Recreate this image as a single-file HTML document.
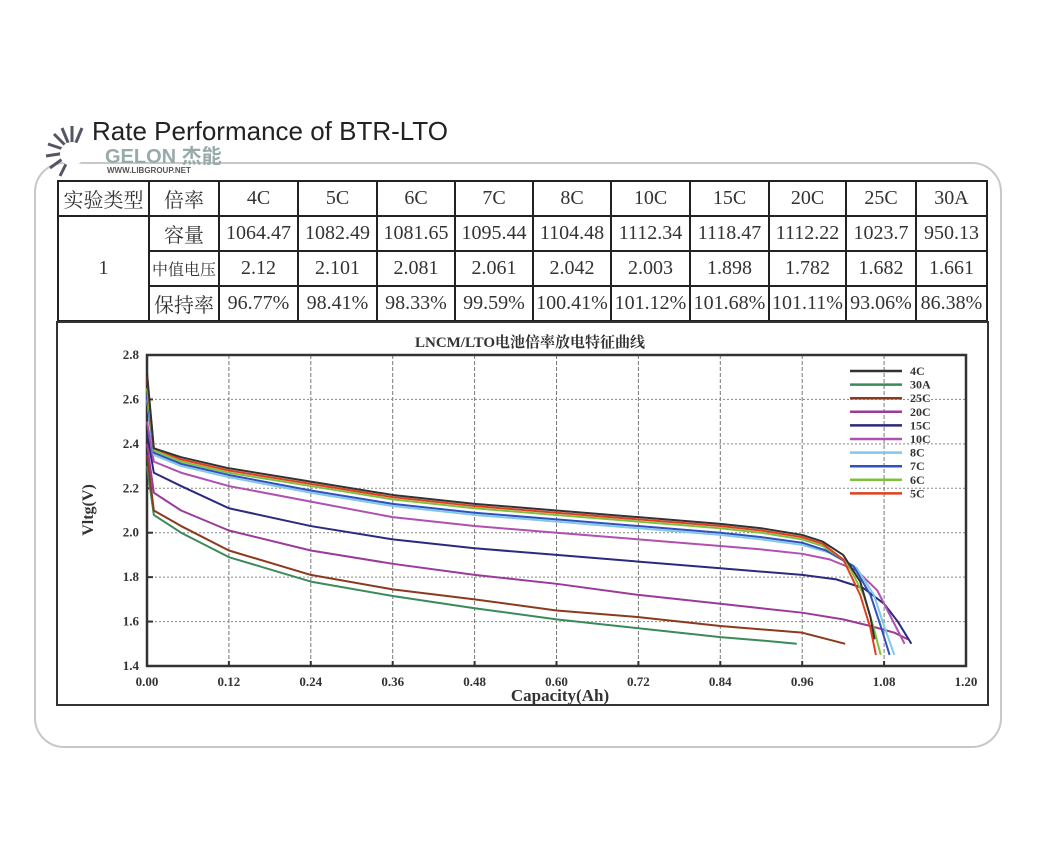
<!DOCTYPE html>
<html><head><meta charset="utf-8">
<style>
body{margin:0;background:#fff;width:1060px;height:868px;overflow:hidden;font-family:"Liberation Serif","Noto Serif CJK SC",serif;}
.title{position:absolute;left:92px;top:116px;font:26px "Liberation Sans",sans-serif;color:#222;}
.logo{position:absolute;left:105px;top:140px;font:bold 20px "Liberation Sans","Noto Sans CJK SC",sans-serif;color:#9aa;}
.www{position:absolute;left:107px;top:166px;font:bold 8px "Liberation Sans",sans-serif;color:#555;}
.outer{position:absolute;left:34px;top:162px;width:964px;height:582px;border:2px solid #c8c8c8;border-radius:30px;}
table{position:absolute;left:57px;top:180px;border-collapse:collapse;}
td{border:2px solid #222;text-align:center;font-size:20px;color:#333;padding:0;height:33px;}
</style></head><body>
<div class="outer"></div>
<div class="title">Rate Performance of BTR-LTO</div>
<div class="logo">GELON 杰能</div>
<div class="www">WWW.LIBGROUP.NET</div>
<svg style="position:absolute;left:42px;top:120px" width="60" height="60">
<g stroke="#556" stroke-width="3">
<line x1="30" y1="32" x2="30" y2="6"/><line x1="30" y1="32" x2="40" y2="8"/><line x1="30" y1="32" x2="20" y2="8"/><line x1="30" y1="32" x2="12" y2="14"/><line x1="30" y1="32" x2="6" y2="24"/><line x1="30" y1="32" x2="4" y2="36"/><line x1="30" y1="32" x2="8" y2="48"/><line x1="30" y1="32" x2="18" y2="56"/></g>
<circle cx="30" cy="34" r="12" fill="#fff"/></svg>
<table>
<tr style="height:35px"><td style="width:89px">实验类型</td><td style="width:68px">倍率</td>
<td style="width:77px">4C</td><td style="width:77px">5C</td><td style="width:76px">6C</td><td style="width:76px">7C</td><td style="width:76px">8C</td><td style="width:77px">10C</td><td style="width:77px">15C</td><td style="width:75px">20C</td><td style="width:68px">25C</td><td style="width:69px">30A</td></tr>
<tr><td rowspan="3">1</td><td>容量</td><td>1064.47</td><td>1082.49</td><td>1081.65</td><td>1095.44</td><td>1104.48</td><td>1112.34</td><td>1118.47</td><td>1112.22</td><td>1023.7</td><td>950.13</td></tr>
<tr><td style="font-size:16px">中值电压</td><td>2.12</td><td>2.101</td><td>2.081</td><td>2.061</td><td>2.042</td><td>2.003</td><td>1.898</td><td>1.782</td><td>1.682</td><td>1.661</td></tr>
<tr><td>保持率</td><td>96.77%</td><td>98.41%</td><td>98.33%</td><td>99.59%</td><td>100.41%</td><td>101.12%</td><td>101.68%</td><td>101.11%</td><td>93.06%</td><td>86.38%</td></tr>
</table>
<svg id="chart" style="position:absolute;left:0;top:0" width="1060" height="868"></svg>
<script>
const xTicks=[0,0.12,0.24,0.36,0.48,0.60,0.72,0.84,0.96,1.08,1.20];
const yTicks=[1.4,1.6,1.8,2.0,2.2,2.4,2.6,2.8];
const seriesNames=["4C","30A","25C","20C","15C","10C","8C","7C","6C","5C"];
const seriesColors=["#333","#3a8a5a","#8b3a1e","#9a3a9a","#2a2a80","#b050b0","#80c8e8","#3050c0","#80c040","#e04020"];
const capX=[0,0.01,0.05,0.12,0.24,0.36,0.48,0.60,0.72,0.84,0.90,0.96];
const v4C=[2.72,2.38,2.34,2.29,2.23,2.17,2.13,2.10,2.07,2.04,2.02,1.99];
const v30A=[2.30,2.08,2.00,1.89,1.78,1.715,1.66,1.61,1.57,1.53,1.515,1.50];
const v25C=[2.35,2.10,2.03,1.92,1.81,1.745,1.70,1.65,1.62,1.58,1.565,1.55];
const v20C=[2.40,2.18,2.10,2.01,1.92,1.86,1.81,1.77,1.72,1.68,1.66,1.64];
const v15C=[2.45,2.27,2.21,2.11,2.03,1.97,1.93,1.90,1.87,1.84,1.825,1.81];
const v10C=[2.50,2.32,2.27,2.21,2.14,2.07,2.03,2.00,1.97,1.94,1.925,1.905];
const v8C=[2.60,2.35,2.30,2.25,2.18,2.12,2.08,2.05,2.02,1.99,1.97,1.945];
const v7C=[2.62,2.36,2.31,2.26,2.19,2.13,2.09,2.06,2.03,2.00,1.98,1.955];
const v6C=[2.65,2.37,2.32,2.27,2.21,2.15,2.11,2.08,2.05,2.02,2.00,1.97];
const v5C=[2.70,2.38,2.33,2.28,2.22,2.16,2.12,2.09,2.06,2.03,2.01,1.98];
const tailX=[[0.99,1.02,1.045,1.06,1.066],[],[1.023],[1.02,1.06,1.095,1.115],[1.01,1.05,1.08,1.10,1.12],[1.0,1.04,1.07,1.09,1.11],[1.0,1.04,1.065,1.08,1.095],[0.995,1.035,1.06,1.075,1.088],[0.99,1.025,1.05,1.065,1.075],[0.99,1.02,1.045,1.06,1.068]];
const tailV=[[1.96,1.90,1.78,1.62,1.52],[],[1.50],[1.61,1.58,1.55,1.52],[1.79,1.75,1.68,1.60,1.50],[1.88,1.83,1.74,1.62,1.50],[1.91,1.84,1.72,1.58,1.45],[1.92,1.85,1.72,1.58,1.45],[1.94,1.87,1.72,1.57,1.45],[1.95,1.88,1.72,1.57,1.45]];
const allV=[v4C,v30A,v25C,v20C,v15C,v10C,v8C,v7C,v6C,v5C];
const cutX=[1.066,0.952,1.023,1.115,1.12,1.11,1.095,1.088,1.075,1.068];
const X0=147,X1=966,Y0=666,Y1=355;
const sx=v=>X0+(v-0)/1.2*(X1-X0);
const sy=v=>Y0-(v-1.4)/1.4*(Y0-Y1);
const svg=document.getElementById('chart');
const NS="http://www.w3.org/2000/svg";
function mk(t,a,txt){const e=document.createElementNS(NS,t);for(const k in a)e.setAttribute(k,a[k]);if(txt!==undefined)e.textContent=txt;svg.appendChild(e);return e;}
let fr=mk('rect',{x:57,y:322,width:931,height:383,fill:'none',stroke:'#333','stroke-width':2});


let t=mk('text',{x:530,y:347,'text-anchor':'middle','font-size':15,'font-weight':'bold','font-family':'"Liberation Serif","Noto Serif CJK SC",serif',fill:'#333'},'LNCM/LTO电池倍率放电特征曲线');


xTicks.forEach((v,i)=>{
 if(i>0&&i<xTicks.length-1){const g=mk('line',{x1:sx(v),x2:sx(v),y1:Y1,y2:Y0,stroke:'#777','stroke-dasharray':'4,2','stroke-width':1});
 
 }
 const l=mk('text',{x:sx(v),y:Y0+20,'text-anchor':'middle','font-size':13,'font-weight':'bold',fill:'#333'},v.toFixed(2));
 
 
 mk('line',{x1:sx(v),x2:sx(v),y1:Y0,y2:Y0-5,stroke:'#333','stroke-width':2});
});
yTicks.forEach((v,i)=>{
 if(i>0&&i<yTicks.length-1){const g=mk('line',{x1:X0,x2:X1,y1:sy(v),y2:sy(v),stroke:'#888','stroke-dasharray':'2,2','stroke-width':1});
 
 }
 const l=mk('text',{x:X0-8,y:sy(v)+4,'text-anchor':'end','font-size':13,'font-weight':'bold',fill:'#333'},v.toFixed(1));
 
 
 mk('line',{x1:X0,x2:X0+6,y1:sy(v),y2:sy(v),stroke:'#333','stroke-width':2});
});
let ax=mk('rect',{x:X0,y:Y1,width:X1-X0,height:Y0-Y1,fill:'none',stroke:'#333','stroke-width':2.5});


let xl=mk('text',{x:560,y:701,'text-anchor':'middle','font-size':17,'font-weight':'bold',fill:'#333'},'Capacity(Ah)');


let yl=mk('text',{x:0,y:0,transform:'translate(93,510) rotate(-90)','text-anchor':'middle','font-size':16,'font-weight':'bold',fill:'#333'},'Vltg(V)');


const order=[1,2,3,4,5,6,7,8,9,0];
order.forEach(i=>{
 const v=allV[i];let pts=[];
 capX.forEach((c,j)=>{if(c<=cutX[i])pts.push([sx(c),sy(v[j])]);});
 if(i===1)pts.push([sx(0.952),sy(1.50)]);
 tailX[i].forEach((c,j)=>pts.push([sx(c),sy(tailV[i][j])]));
 const p=mk('polyline',{points:pts.map(q=>q.join(',')).join(' '),fill:'none',stroke:seriesColors[i],'stroke-width':2,'stroke-linejoin':'round'});
 
 
});
seriesNames.forEach((n,i)=>{
 const y=371+i*13.6;
 const l=mk('line',{x1:850,x2:902,y1:y,y2:y,stroke:seriesColors[i],'stroke-width':2.5});
 
 
 const tx=mk('text',{x:910,y:y+4,'font-size':12,'font-weight':'bold',fill:'#333'},n);
 
 
});
</script>
</body></html>
